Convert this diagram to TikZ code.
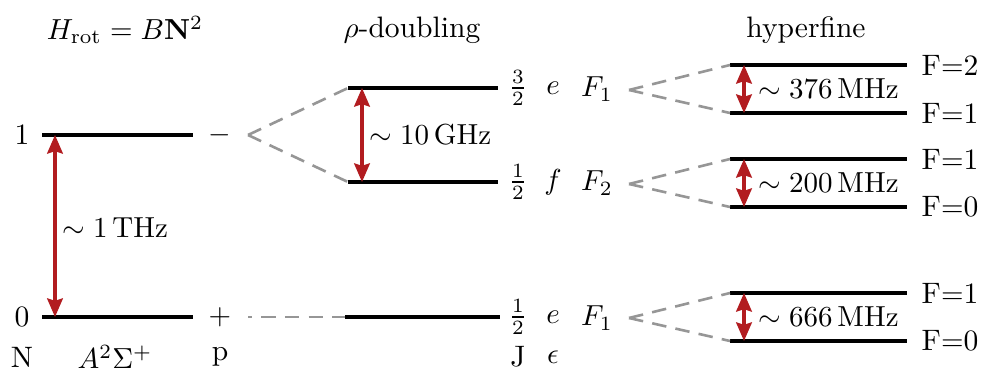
\documentclass[tikz,border=0pt]{standalone}
\usetikzlibrary{arrows.meta}
\definecolor{arrred}{RGB}{178,28,32}
\definecolor{dashgray}{RGB}{150,150,150}
\begin{document}
\begin{tikzpicture}[x=0.345pt,y=-0.345pt,
  level/.style={line width=1.1pt,black},
  conn/.style={dashgray,line width=0.9pt,dash pattern=on 5pt off 3.2pt},
  gap/.style={arrred,line width=1.05pt,{Stealth[length=6.4pt,width=5.4pt,inset=0.8pt]}-{Stealth[length=6.4pt,width=5.4pt,inset=0.8pt]}},
  lbl/.style={inner sep=0pt,font=\fontsize{10.2}{12}\selectfont}
]
\useasboundingbox (0,0) rectangle (981,372);
% titles
\node[lbl] (t1) at (125,30) {$H_{\mathrm{rot}} = B\mathbf{N}^2$};
\node[lbl] (t2) at (412,30) {$\rho$-doubling};
\node[lbl] (t3) at (806,30) {hyperfine};
% rotational levels
\coordinate (n1a) at (42,135); \coordinate (n1b) at (193,135);
\coordinate (n0a) at (42,317); \coordinate (n0b) at (193,317);
\draw[level] (n1a) -- (n1b);
\draw[level] (n0a) -- (n0b);
\node[lbl] (l1) at (22,135) {1};
\node[lbl] (l0) at (22,317) {0};
\node[lbl] (pm) at (220,135) {$-$};
\node[lbl] (pp) at (220,317) {$+$};
\node[lbl] (bN) at (22,357) {N};
\node[lbl] (bA) at (115,357) {$A^2\Sigma^+$};
\node[lbl] (bp) at (220,357) {p};
\coordinate (a1t) at (55,135); \coordinate (a1b) at (55,317);
\draw[gap] (a1t) -- (a1b);
\node[lbl,anchor=west] (thz) at (62,228) {$\sim 1\,\mathrm{THz}$};
% rho-doubling levels
\coordinate (r1a) at (348,88);  \coordinate (r1b) at (498,88);
\coordinate (r2a) at (348,182); \coordinate (r2b) at (498,182);
\coordinate (r3a) at (345,317); \coordinate (r3b) at (500,317);
\draw[level] (r1a) -- (r1b);
\draw[level] (r2a) -- (r2b);
\draw[level] (r3a) -- (r3b);
\coordinate (v1) at (248,135);
\coordinate (v0) at (248,317);
\draw[conn] (v1) -- (r1a);
\draw[conn] (v1) -- (r2a);
\draw[conn,dash phase=3.7pt] (v0) -- (r3a);
\coordinate (a2t) at (362,88); \coordinate (a2b) at (362,182);
\draw[gap] (a2t) -- (a2b);
\node[lbl,anchor=west] (ghz) at (369,135) {$\sim 10\,\mathrm{GHz}$};
\node[lbl] (j1) at (518,88) {$\frac{3}{2}$};
\node[lbl] (j2) at (518,182) {$\frac{1}{2}$};
\node[lbl] (j3) at (518,317) {$\frac{1}{2}$};
\node[lbl] (bJ) at (518,357) {J};
\node[lbl] (e1) at (553,88) {$e$};
\node[lbl] (e2) at (553,182) {$f$};
\node[lbl] (e3) at (553,317) {$e$};
\node[lbl] (be) at (553,357) {$\epsilon$};
\node[lbl] (f1) at (597,89) {$F_1$};
\node[lbl] (f2) at (597,183) {$F_2$};
\node[lbl] (f3) at (597,318) {$F_1$};
% hyperfine levels
\foreach \n/\y in {h1/65,h2/113,h3/159,h4/207,h5/293,h6/341}{
  \coordinate (\n a) at (730,\y); \coordinate (\n b) at (907,\y);
  \draw[level] (\n a) -- (\n b);
}
\node[lbl] (F1) at (950,65) {F$=$2};
\node[lbl] (F2) at (950,113) {F$=$1};
\node[lbl] (F3) at (950,159) {F$=$1};
\node[lbl] (F4) at (950,207) {F$=$0};
\node[lbl] (F5) at (950,293) {F$=$1};
\node[lbl] (F6) at (950,341) {F$=$0};
\coordinate (w1) at (629,90);
\coordinate (w2) at (629,184);
\coordinate (w3) at (629,318);
\draw[conn] (w1) -- (h1a); \draw[conn] (w1) -- (h2a);
\draw[conn] (w2) -- (h3a); \draw[conn] (w2) -- (h4a);
\draw[conn] (w3) -- (h5a); \draw[conn] (w3) -- (h6a);
\coordinate (g1t) at (744,65);  \coordinate (g1b) at (744,113);
\coordinate (g2t) at (744,159); \coordinate (g2b) at (744,207);
\coordinate (g3t) at (744,293); \coordinate (g3b) at (744,341);
\draw[gap] (g1t) -- (g1b);
\draw[gap] (g2t) -- (g2b);
\draw[gap] (g3t) -- (g3b);
\node[lbl,anchor=west] (m1) at (758,89) {$\sim 376\,\mathrm{MHz}$};
\node[lbl,anchor=west] (m2) at (758,183) {$\sim 200\,\mathrm{MHz}$};
\node[lbl,anchor=west] (m3) at (758,317) {$\sim 666\,\mathrm{MHz}$};
\end{tikzpicture}
\end{document}
